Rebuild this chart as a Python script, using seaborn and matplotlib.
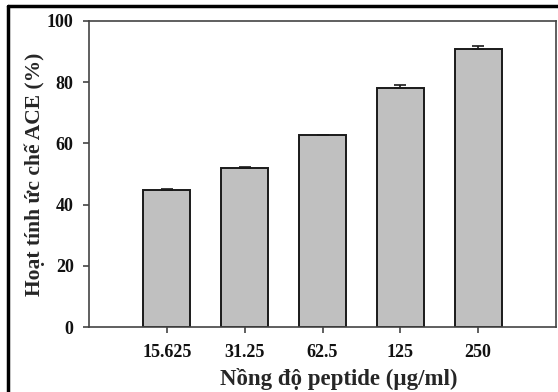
import matplotlib
matplotlib.use("Agg")
import matplotlib.pyplot as plt
import seaborn as sns
import numpy as np
import pandas as pd
from matplotlib.lines import Line2D

# ACE inhibition vs peptide concentration
concentrations = ["15.625", "31.25", "62.5", "125", "250"]
inhibition = [44.8, 51.9, 62.6, 78.0, 91.0]
inhibition_err = [0.4, 0.3, 0.3, 1.2, 0.8]
y_ticks = [0, 20, 40, 60, 80, 100]

sns.set_theme(style="white")
plt.rcParams['font.family'] = ['Liberation Serif', 'DejaVu Serif']
plt.rcParams['font.weight'] = 'bold'

df = pd.DataFrame({"conc": concentrations, "inh": inhibition})

fig = plt.figure(figsize=(5.58, 3.92), dpi=100)
ax = fig.add_axes([89 / 558, 1 - 327 / 392, (556 - 89) / 558, (327 - 21) / 392])

sns.barplot(data=df, x="conc", y="inh", color="#c0c0c0", saturation=1,
            edgecolor="#1a1a1a", linewidth=1.4, width=0.6, errorbar=None, ax=ax)

# one-sided error bars (upper only)
xpos = np.arange(len(concentrations))
ax.errorbar(xpos, inhibition, yerr=[np.zeros(len(inhibition_err)), inhibition_err],
            fmt="none", ecolor="#1a1a1a", elinewidth=1.2, capsize=4, capthick=1.2)

ax.set_xlim(-1, 5)
ax.set_ylim(0, 100)
ax.set_yticks(y_ticks)
ax.set_yticklabels([str(t) for t in y_ticks])

for sp in ax.spines.values():
    sp.set_color("#444444")
    sp.set_linewidth(1.2)

ax.tick_params(axis="both", direction="out", length=4, width=1.2, color="#444444",
               labelsize=13, colors="#111111")
ax.tick_params(axis="x", pad=8, bottom=True)
ax.tick_params(axis="y", pad=7, left=True)
for lab in ax.get_xticklabels() + ax.get_yticklabels():
    lab.set_fontweight("bold")

ax.set_xlabel("Nồng độ peptide (µg/ml)", fontsize=16.5, fontweight="bold", labelpad=2)
ax.xaxis.set_label_coords((339 - 89) / 467, -0.135)
ax.set_ylabel("Hoạt tính ức chế ACE (%)", fontsize=15.5, fontweight="bold")
ax.yaxis.set_label_coords(-0.095, 0.5)

# outer frame (top and left edges visible in the source image)
fig.add_artist(Line2D([8 / 558, 1.0], [1 - 5.5 / 392, 1 - 5.5 / 392], color="black", lw=2.5,
                      transform=fig.transFigure))
fig.add_artist(Line2D([8 / 558, 8 / 558], [0.0, 1 - 5.5 / 392], color="black", lw=2.5,
                      transform=fig.transFigure))

fig.savefig("out.png", dpi=100)
